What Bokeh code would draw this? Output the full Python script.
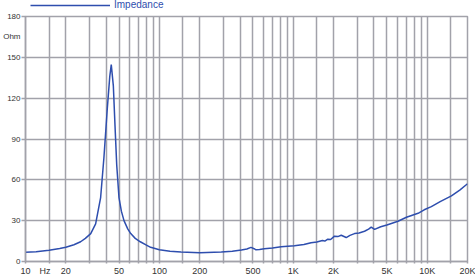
from bokeh.plotting import figure
from bokeh.layouts import column
from bokeh.models import FixedTicker, Legend, LegendItem, Range1d
from bokeh.embed import file_html
from bokeh.resources import INLINE

# ---- data ----
freq_hz = [10, 12, 15, 18, 20, 23, 25.8, 28, 30.7, 33.4, 36.4, 38.5, 40.8, 42.6,
           43.7, 45.3, 46.6, 48, 49.9, 52, 54.4, 58, 61.1, 66, 72, 80, 86, 100,
           120, 145, 200, 290, 350, 410, 450, 483, 510, 526, 560, 607, 700, 811,
           1019, 1200, 1358, 1500, 1650, 1720, 1811, 1900, 2031, 2150, 2280,
           2484, 2650, 2866, 3100, 3404, 3650, 3819, 4046, 4500, 5000, 6050,
           7000, 8550, 9500, 10740, 12500, 15170, 17500, 20000]
impedance_ohm = [6.8, 7.2, 8.2, 9.6, 10.5, 12.3, 14.5, 17, 20.5, 27.7, 47, 76, 112, 136,
                 144.6, 129, 100, 71, 47, 37, 30, 24, 20.5, 17, 14.5, 12, 10.4, 8.6,
                 7.5, 6.9, 6.5, 7.0, 7.6, 8.4, 9.2, 10.4, 9.4, 8.6, 8.9, 9.4, 10.0, 10.8,
                 11.6, 12.5, 13.7, 14.3, 15.4, 15.0, 16.4, 16.2, 18.6, 18.3, 19.3,
                 17.6, 19.2, 20.5, 21.0, 22.2, 23.8, 25.3, 23.6, 25.5, 26.8, 29.6,
                 32.5, 35.4, 38.0, 40.3, 44, 48.2, 52.5, 57.1]

x_label_ticks = [10, 14, 20, 50, 100, 200, 500, 1000, 2000, 5000, 10000, 20000]
x_label_texts = ["10", "Hz", "20", "50", "100", "200", "500", "1K", "2K", "5K", "10K", "20K"]
x_grid_ticks = [10, 15, 20, 30, 40, 50, 60, 70, 80, 90, 100, 150, 200, 300, 400,
                500, 600, 700, 800, 900, 1000, 1500, 2000, 3000, 4000, 5000, 6000,
                7000, 8000, 9000, 10000, 15000, 20000]
y_label_ticks = [0, 30, 60, 90, 120, 150, 165, 180]
y_label_texts = ["0", "30", "60", "90", "120", "150", "Ohm", "180"]
y_grid_ticks = [0, 30, 60, 90, 120, 150, 180]
series_name = "Impedance"

LINE = "#2e4eae"
GRID = "#a2a2aa"
TXT = "#333333"
FONT = "Liberation Sans"

TOP_H = 10
LEFT = 25

p = figure(width=475, height=278 - TOP_H, x_axis_type="log",
           x_range=Range1d(10, 20000), y_range=Range1d(0, 180),
           output_backend="svg", toolbar_location=None,
           min_border_left=LEFT, min_border_right=8, min_border_top=16 - TOP_H,
           min_border_bottom=13)
p.background_fill_color = "white"
p.border_fill_color = "white"
p.outline_line_color = GRID
p.outline_line_width = 1.5

r = p.line(freq_hz, impedance_ohm, line_color=LINE, line_width=1.5)

xa = p.xaxis[0]
xa.ticker = FixedTicker(ticks=x_label_ticks, minor_ticks=x_grid_ticks)
xa.major_label_overrides = {t: s for t, s in zip(x_label_ticks, x_label_texts)}
ya = p.yaxis[0]
ya.ticker = FixedTicker(ticks=y_label_ticks, minor_ticks=y_grid_ticks)
ya.major_label_overrides = {t: s for t, s in zip(y_label_ticks, y_label_texts)}

for ax in (xa, ya):
    ax.axis_line_color = GRID
    ax.axis_line_width = 1.5
    ax.major_tick_line_alpha = 0
    ax.minor_tick_line_color = GRID
    ax.minor_tick_line_width = 1.5
    ax.minor_tick_in = 0
    ax.major_tick_in = 0
    ax.major_label_text_font = FONT
    ax.major_label_text_color = TXT
xa.major_label_text_font_size = "9px"
ya.major_label_text_font_size = "8px"
xa.major_tick_out = 2
xa.minor_tick_out = 2
xa.major_label_standoff = 2
ya.major_tick_out = 4
ya.minor_tick_out = 4
ya.major_label_standoff = 1

p.xgrid.grid_line_color = None
p.xgrid.minor_grid_line_color = GRID
p.xgrid.minor_grid_line_width = 1.5
p.ygrid.grid_line_color = None
p.ygrid.minor_grid_line_color = GRID
p.ygrid.minor_grid_line_width = 1.5

# legend strip on top
top = figure(width=475, height=TOP_H, x_range=Range1d(0, 1), y_range=Range1d(0, 1),
             output_backend="svg", toolbar_location=None,
             min_border_left=LEFT, min_border_right=8, min_border_top=0,
             min_border_bottom=0)
top.axis.visible = False
top.grid.visible = False
top.outline_line_color = None
top.background_fill_color = "white"
top.border_fill_color = "white"
r_leg = top.line([5, 6], [5, 6], line_color=LINE, line_width=1.5)
legend = Legend(items=[LegendItem(label=series_name, renderers=[r_leg])],
                location=(30 - LEFT, TOP_H - 4.5 - 6), orientation="horizontal",
                padding=0, margin=0, spacing=0,
                glyph_width=80, glyph_height=12, label_height=12,
                label_standoff=4, border_line_alpha=0, background_fill_alpha=0,
                label_text_font=FONT, label_text_font_size="10px",
                label_text_color=LINE)
top.add_layout(legend)

layout = column(top, p, spacing=0)
open("out.html", "w").write(file_html(layout, INLINE))
